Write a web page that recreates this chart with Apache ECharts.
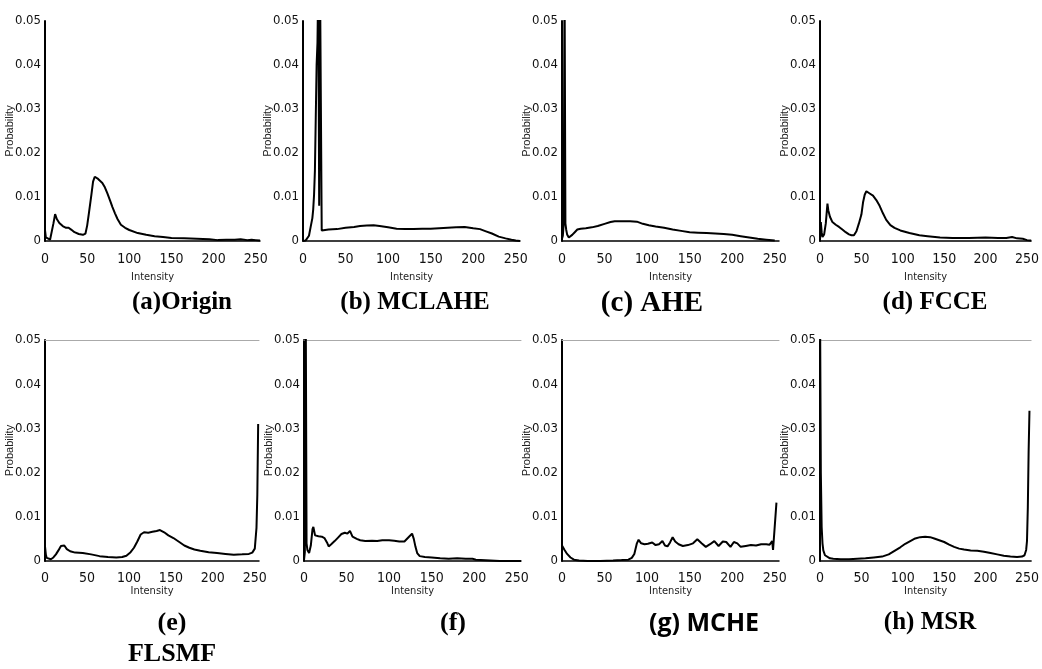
<!DOCTYPE html>
<html>
<head>
<meta charset="UTF-8">
<title>Histograms</title>
<script src="https://cdn.jsdelivr.net/npm/echarts@6/dist/echarts.min.js"></script>
<style>
  html, body { margin: 0; padding: 0; background: #fff; }
  #main { width: 1042px; height: 669px; }
</style>
</head>
<body>
<div id="main"></div>
<script>
// tick values
var xTicks = [0, 50, 100, 150, 200, 250];
var yTicks = [0, 0.01, 0.02, 0.03, 0.04, 0.05];

// histograms: [intensity, probability]
var originData = [[0,0.0025],[1,0.0008],[3,0.0004],[6,0.0003],[8,0.0006],[10,0.004],[12,0.0061],[14,0.005],[17,0.0041],[21,0.0034],[25,0.003],[28,0.003],[31,0.0026],[35,0.002],[40,0.0016],[45,0.0014],[48,0.0017],[50,0.0035],[52,0.0062],[55,0.0105],[57,0.0135],[59,0.0146],[61,0.0145],[63,0.0141],[65,0.0141],[68,0.0132],[71,0.0122],[74,0.0108],[77,0.0093],[80,0.0077],[83,0.0063],[86,0.005],[90,0.0037],[95,0.003],[100,0.0025],[110,0.0018],[120,0.0014],[130,0.0011],[140,0.0009],[150,0.0007],[165,0.0006],[180,0.0005],[195,0.0004],[205,0.0002],[215,0.0003],[225,0.0003],[232,0.0004],[240,0.0002],[245,0.0003],[250,0.0002],[255,0.0001]];
var mclaheData = [[0,0],[3,0.0001],[5,0.0004],[7,0.0012],[9,0.0032],[11,0.0052],[12,0.0072],[13,0.0105],[14,0.016],[15,0.028],[16,0.04],[17,0.045],[18,0.06],[19,0.008],[20,0.06],[21,0.06],[22,0.0024],[24,0.0024],[30,0.0026],[40,0.0027],[50,0.003],[60,0.0032],[67,0.0034],[75,0.0035],[83,0.0036],[90,0.0034],[100,0.0031],[110,0.0028],[120,0.0027],[130,0.0027],[140,0.0028],[150,0.0028],[160,0.0029],[170,0.003],[180,0.0031],[190,0.0032],[200,0.0029],[208,0.0027],[215,0.0022],[222,0.0017],[230,0.001],[238,0.0006],[245,0.0003],[250,0.0001],[255,0]];
var aheData = [[0,0.0005],[1,0.0012],[2,0.004],[3,0.06],[4,0.004],[5,0.0025],[6,0.0015],[8,0.0008],[10,0.001],[12,0.0014],[15,0.002],[18,0.0026],[22,0.0028],[28,0.0029],[35,0.0031],[42,0.0034],[50,0.0039],[57,0.0043],[62,0.0045],[70,0.0045],[80,0.0045],[88,0.0044],[95,0.0039],[102,0.0036],[110,0.0033],[120,0.003],[130,0.0026],[140,0.0023],[150,0.002],[160,0.0019],[170,0.0018],[180,0.0017],[190,0.0016],[200,0.0014],[210,0.0011],[220,0.0008],[230,0.0005],[240,0.0003],[250,0.0001]];
var fcceData = [[0,0.0002],[1,0.0043],[2,0.002],[3,0.0009],[5,0.0015],[7,0.004],[9,0.0085],[10,0.007],[12,0.0055],[15,0.0043],[19,0.0037],[23,0.0032],[27,0.0026],[31,0.002],[35,0.0015],[38,0.0013],[41,0.0013],[44,0.0022],[47,0.004],[50,0.006],[52,0.0088],[54,0.0105],[56,0.0113],[58,0.0117],[60,0.0108],[64,0.0103],[68,0.0093],[72,0.008],[76,0.0063],[80,0.0048],[85,0.0036],[90,0.003],[97,0.0024],[108,0.0018],[120,0.0013],[130,0.0011],[145,0.0008],[160,0.0007],[180,0.0007],[200,0.0008],[215,0.0007],[225,0.0007],[232,0.0009],[238,0.0006],[245,0.0005],[250,0.0002],[255,0.0001]];
var flsmfData = [[0,0.0033],[1,0.0015],[2,0.0007],[4,0.0004],[7,0.0004],[10,0.0008],[13,0.0015],[16,0.0024],[19,0.0034],[21,0.0037],[23,0.0035],[26,0.0027],[30,0.0022],[36,0.0019],[45,0.0018],[55,0.0015],[65,0.0011],[75,0.0009],[85,0.0008],[92,0.0009],[97,0.0012],[102,0.002],[106,0.003],[110,0.0044],[114,0.006],[118,0.0065],[123,0.0064],[128,0.0066],[133,0.0068],[137,0.007],[142,0.0065],[147,0.0058],[153,0.0052],[160,0.0043],[166,0.0035],[172,0.003],[178,0.0026],[185,0.0023],[195,0.002],[205,0.0018],[215,0.0016],[225,0.0014],[235,0.0015],[243,0.0016],[247,0.0019],[250,0.0028],[252,0.0075],[253,0.015],[254,0.031]];
var fData = [[0,0.0002],[1,0.002],[2,0.06],[3,0.004],[4,0.0025],[6,0.0018],[8,0.0035],[10,0.0072],[11,0.0077],[13,0.0058],[17,0.0056],[21,0.0055],[24,0.0052],[27,0.0042],[29,0.0033],[32,0.0038],[36,0.0045],[40,0.0053],[44,0.0061],[48,0.0064],[51,0.0062],[54,0.0068],[57,0.0055],[62,0.005],[66,0.0047],[72,0.0045],[80,0.0046],[86,0.0045],[92,0.0047],[100,0.0047],[106,0.0046],[112,0.0044],[118,0.0044],[124,0.0056],[127,0.0062],[129,0.005],[131,0.0032],[133,0.0018],[136,0.0011],[142,0.0009],[150,0.0008],[160,0.0006],[170,0.0005],[180,0.0006],[190,0.0005],[198,0.0005],[202,0.0003],[204,0],[230,0],[255,0]];
var mcheData = [[0,0.0035],[3,0.0025],[6,0.0016],[10,0.0008],[14,0.0003],[20,0.0001],[30,0],[45,0],[60,0.0001],[70,0.0002],[78,0.0003],[82,0.0007],[85,0.0016],[88,0.004],[90,0.0048],[93,0.004],[97,0.0038],[101,0.0039],[106,0.0042],[110,0.0036],[114,0.0038],[118,0.0045],[121,0.0035],[124,0.0033],[127,0.0042],[130,0.0054],[133,0.0044],[137,0.0038],[142,0.0034],[148,0.0036],[154,0.004],[159,0.0049],[164,0.004],[169,0.0032],[174,0.0038],[179,0.0045],[184,0.0034],[189,0.0044],[193,0.0043],[198,0.0032],[202,0.0043],[206,0.004],[210,0.0032],[216,0.0034],[222,0.0036],[228,0.0035],[234,0.0038],[240,0.0038],[244,0.0037],[247,0.0045],[248,0.0025],[250,0.0023],[252,0.0132]];
var msrData = [[0,0.06],[1,0.02],[2,0.0077],[3,0.004],[4,0.0024],[6,0.0013],[8,0.0009],[12,0.0006],[16,0.0005],[25,0.0004],[35,0.0004],[45,0.0005],[55,0.0006],[65,0.0008],[75,0.001],[83,0.0015],[90,0.0023],[97,0.0031],[103,0.0039],[109,0.0045],[115,0.0051],[121,0.0054],[127,0.0055],[133,0.0054],[138,0.0051],[144,0.0047],[150,0.0043],[156,0.0037],[162,0.0032],[168,0.0028],[174,0.0026],[182,0.0024],[190,0.0023],[198,0.0021],[206,0.0018],[214,0.0015],[222,0.0012],[230,0.001],[238,0.0009],[244,0.001],[247,0.0013],[249,0.0025],[250,0.0045],[251,0.012],[252,0.025],[253,0.034]];

var captions = ['(a)Origin', '(b) MCLAHE', '(c) AHE', '(d) FCCE', '(e)', '(f)', '(g) MCHE', '(h) MSR'];

// panel layout in pixels
var panels = [
  { data: originData, left: 45,  top: 21,  width: 215, height: 220, nameGap: 31, labelGap: 11 },
  { data: mclaheData, left: 303, top: 21,  width: 217, height: 220, nameGap: 31, labelGap: 11 },
  { data: aheData,    left: 562, top: 21,  width: 217, height: 220, nameGap: 31, labelGap: 11 },
  { data: fcceData,   left: 820, top: 21,  width: 219, height: 220, nameGap: 31, labelGap: 11 },
  { data: flsmfData,  left: 45,  top: 340, width: 214, height: 221, nameGap: 25, labelGap: 10, frame: true },
  { data: fData,      left: 304, top: 340, width: 217, height: 221, nameGap: 25, labelGap: 10, frame: true },
  { data: mcheData,   left: 562, top: 340, width: 217, height: 221, nameGap: 25, labelGap: 10, frame: true },
  { data: msrData,    left: 820, top: 340, width: 216, height: 221, nameGap: 25, labelGap: 10, frame: true }
];

var narrow = "'Liberation Sans Narrow', 'DejaVu Sans Condensed', 'Liberation Sans', sans-serif";
var serif = "'Liberation Serif', 'DejaVu Serif', serif";

var grids = [], xAxes = [], yAxes = [], series = [];
panels.forEach(function (p, i) {
  grids.push({ left: p.left, top: p.top, width: p.width, height: p.height });
  xAxes.push({
    type: 'value', gridIndex: i, min: xTicks[0], max: 255, interval: 50,
    name: 'Intensity', nameLocation: 'middle', nameGap: p.nameGap, nameMoveOverlap: false,
    nameTextStyle: { fontFamily: narrow, fontSize: 11, color: '#222' },
    axisLine: { lineStyle: { color: '#000', width: 1.5 } },
    axisTick: { show: false },
    splitLine: { show: false },
    axisLabel: {
      margin: p.labelGap, fontFamily: narrow, fontSize: 14, color: '#111',
      formatter: function (v) { return xTicks.indexOf(v) >= 0 ? String(v) : ''; }
    }
  });
  yAxes.push({
    type: 'value', gridIndex: i, min: yTicks[0], max: yTicks[yTicks.length - 1], interval: 0.01,
    name: 'Probability', nameLocation: 'middle', nameGap: 30, nameMoveOverlap: false,
    nameTextStyle: { fontFamily: "'Liberation Sans', sans-serif", fontSize: 11, color: '#222' },
    axisLine: { show: true, lineStyle: { color: '#000', width: 2 } },
    axisTick: { show: false },
    splitLine: { show: false },
    axisLabel: {
      margin: 4, fontFamily: narrow, fontSize: 13, color: '#111',
      formatter: function (v) { return v === 0 ? '0' : v.toFixed(2); }
    }
  });
  series.push({
    type: 'line', xAxisIndex: i, yAxisIndex: i, data: p.data,
    showSymbol: false, clip: true, animation: false,
    lineStyle: { color: '#000', width: 2 }
  });
});

// light frame line along the top of the lower panels
panels.forEach(function (p, i) {
  if (!p.frame) return;
  xAxes.push({
    type: 'value', gridIndex: i, position: 'top', min: 0, max: 255,
    axisLine: { lineStyle: { color: '#aaa', width: 1 } },
    axisTick: { show: false }, axisLabel: { show: false }, splitLine: { show: false }
  });
});

function caption(text, x, y, size, family) {
  return {
    type: 'text', x: x, y: y,
    style: {
      text: text, fill: '#000', align: 'center', verticalAlign: 'middle',
      font: 'bold ' + size + 'px ' + family
    }
  };
}

var option = {
  backgroundColor: '#fff',
  animation: false,
  grid: grids,
  xAxis: xAxes,
  yAxis: yAxes,
  series: series,
  graphic: [
    caption(captions[0], 182, 303, 25, serif),
    caption(captions[1], 415, 303, 25, serif),
    caption(captions[2], 652, 304, 29, serif),
    caption(captions[3], 935, 303, 25, serif),
    caption(captions[4], 172, 623, 26, serif),
    caption('FLSMF', 172, 654, 26, serif),
    caption(captions[5], 453, 623, 26, serif),
    caption(captions[6], 704, 624, 25, "'Open Sans', 'Noto Sans', sans-serif"),
    caption(captions[7], 930, 623, 25, serif)
  ]
};

var myChart = echarts.init(document.getElementById('main'));
myChart.setOption(option);
</script>
</body>
</html>
